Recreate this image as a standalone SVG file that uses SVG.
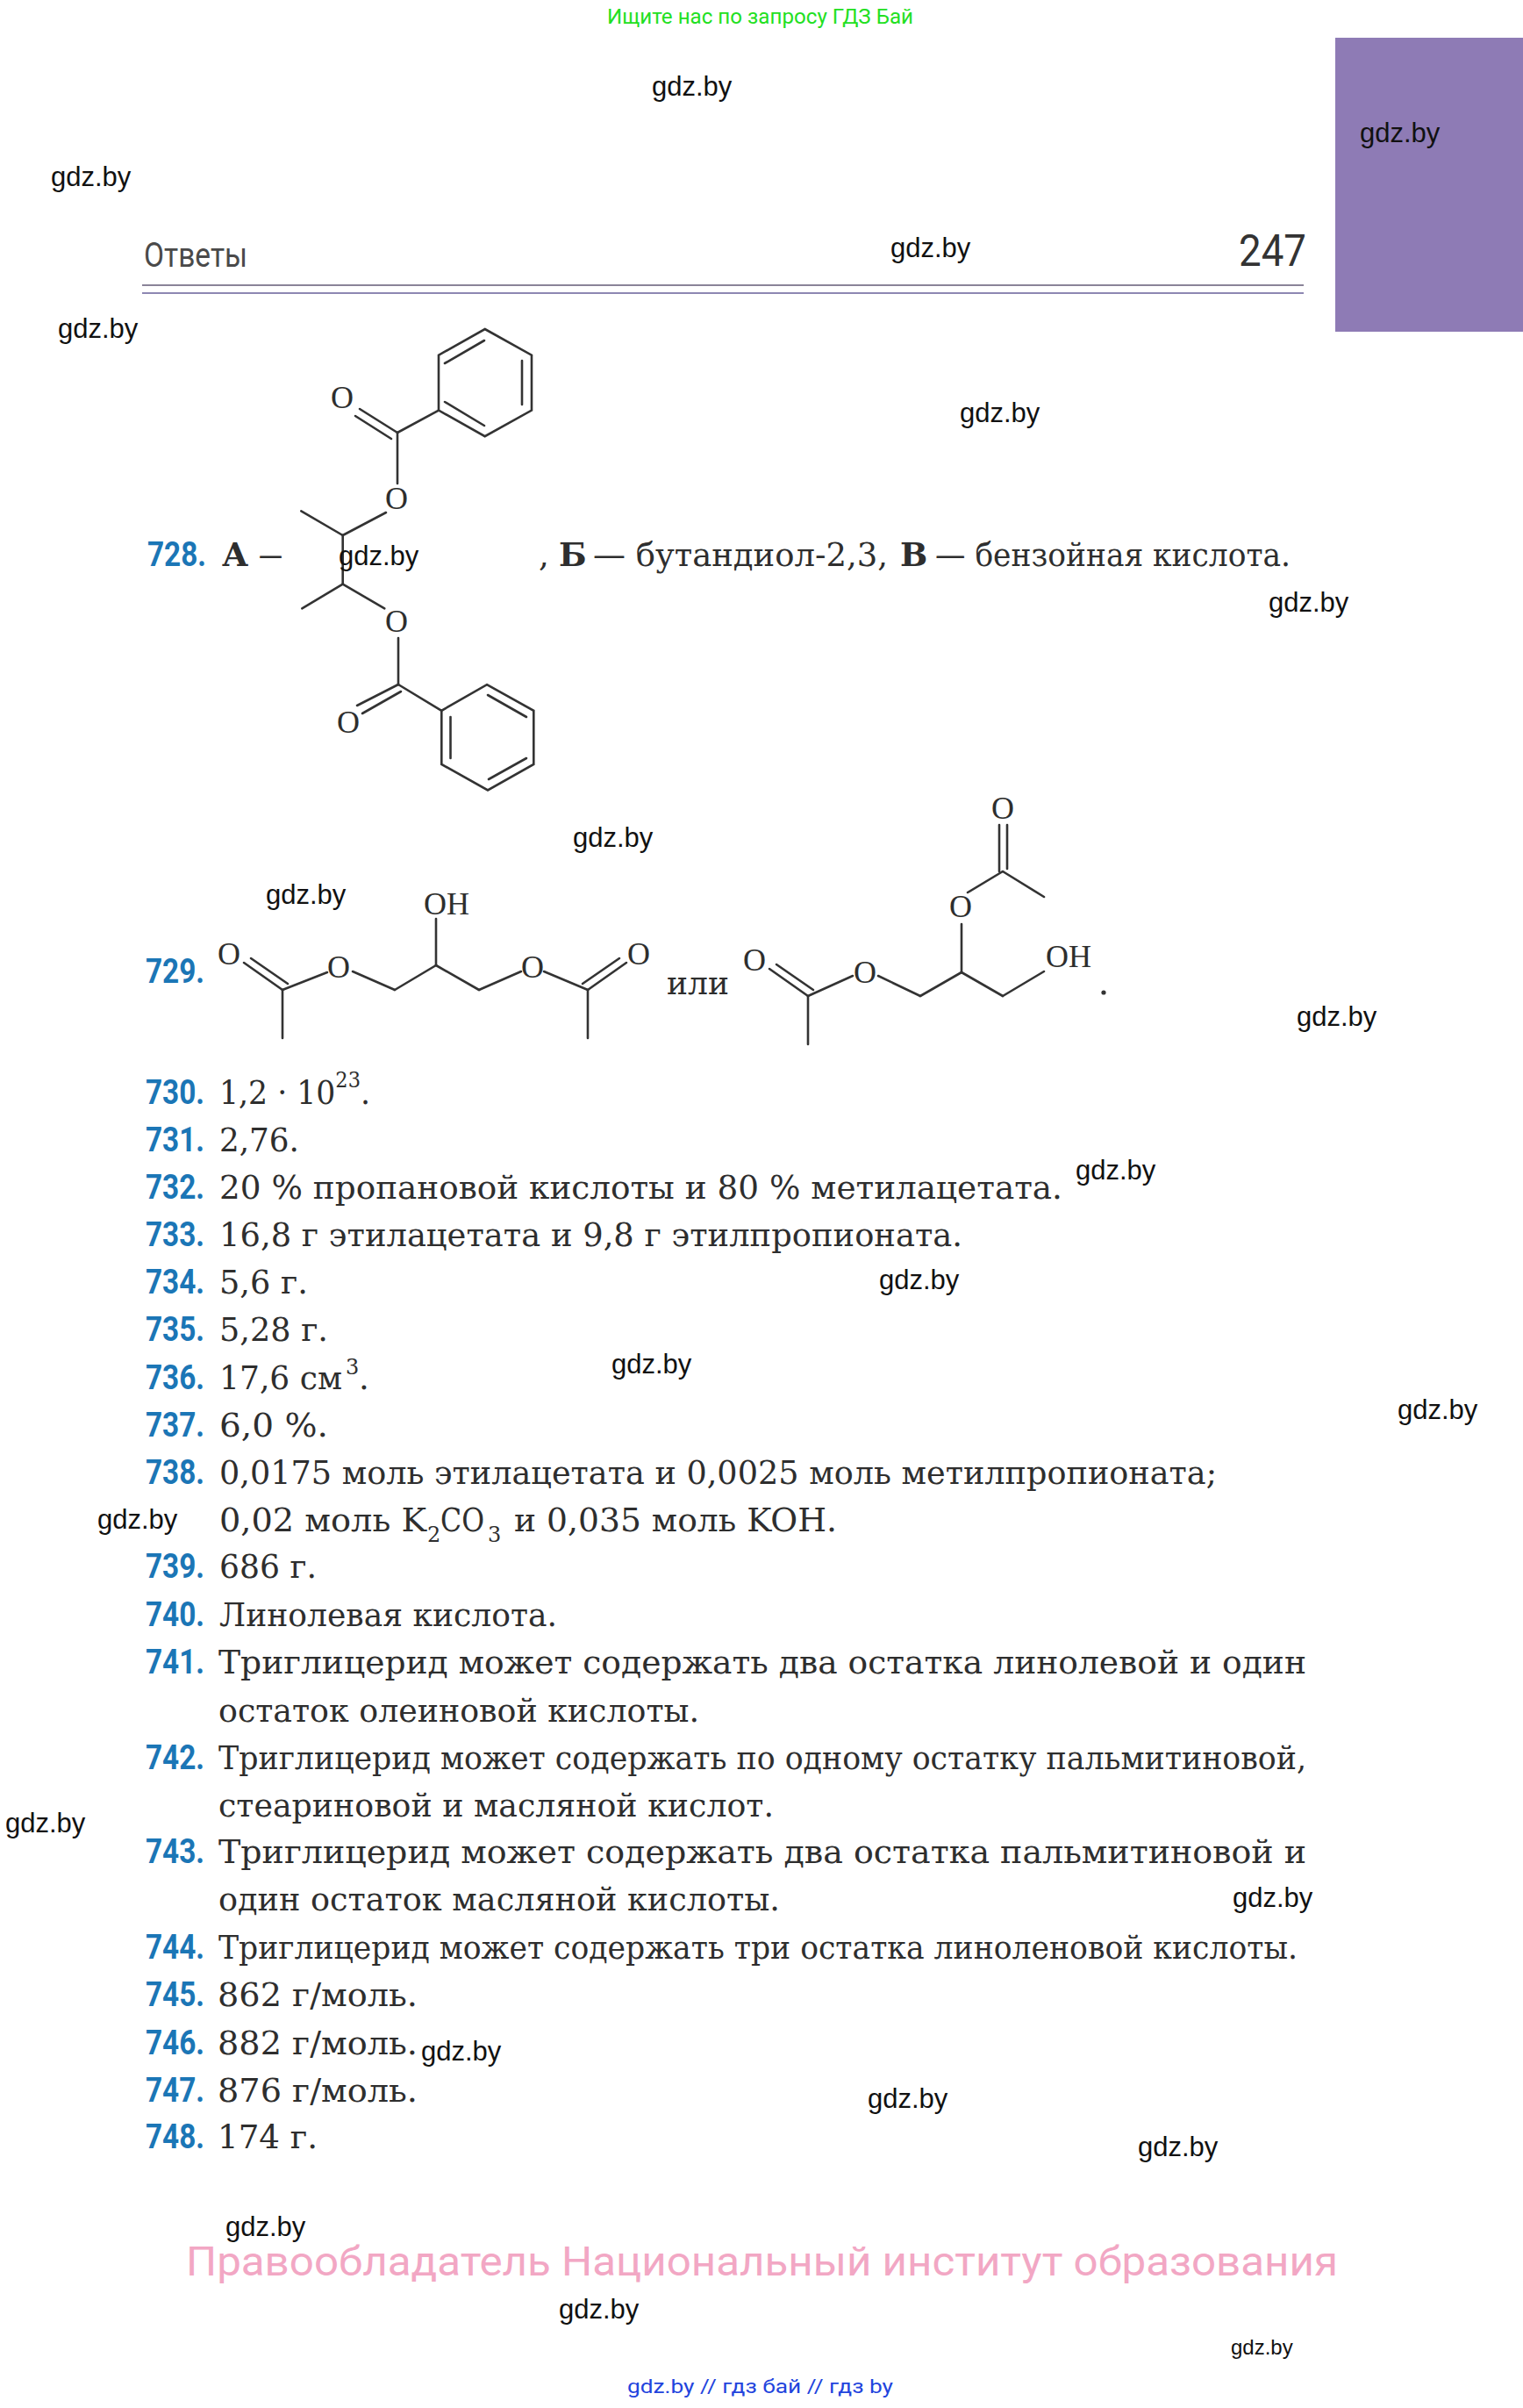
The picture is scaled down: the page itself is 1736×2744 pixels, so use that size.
<svg xmlns="http://www.w3.org/2000/svg" width="1736" height="2744" viewBox="0 0 1736 2744">
<style>
.wm{font-family:"Liberation Sans",Arial,sans-serif;font-size:31px;fill:#111}
.wms{font-family:"Liberation Sans",Arial,sans-serif;font-size:24px;fill:#111}
.num{font-family:Roboto,"Liberation Sans",sans-serif;font-weight:bold;font-size:39px;fill:#1b76b6}
.tx{font-family:"DejaVu Serif","Liberation Serif",serif;font-size:37px;fill:#2e2e2e}
.sm{font-family:"DejaVu Serif","Liberation Serif",serif;font-size:24px;fill:#2e2e2e}
.b{font-weight:bold}
.at{font-family:"Liberation Serif","DejaVu Serif",serif;font-size:36px;fill:#2e2e2e;text-anchor:middle}
.ath{font-family:"Liberation Serif","DejaVu Serif",serif;font-size:36px;fill:#2e2e2e}
.bd{stroke:#333;stroke-width:2.6;fill:none;stroke-linecap:round}
</style>
<rect width="1736" height="2744" fill="#fff"/>
<g id="header">
<text x="692" y="27" font-family="Roboto,'Liberation Sans',sans-serif" font-size="23" fill="#22e022" textLength="349" lengthAdjust="spacingAndGlyphs">Ищите нас по запросу ГДЗ Бай</text>
<rect x="1522" y="43" width="214" height="335" fill="#8e7bb5"/>
<text x="164" y="304" font-family="Roboto,'Liberation Sans',sans-serif" font-size="39" fill="#4a4a4a" textLength="118" lengthAdjust="spacingAndGlyphs">Ответы</text>
<text x="1412" y="303" font-family="Roboto,'Liberation Sans',sans-serif" font-size="50" fill="#333" textLength="77" lengthAdjust="spacingAndGlyphs">247</text>
<line x1="162" y1="325" x2="1486" y2="325" stroke="#8a8498" stroke-width="2"/>
<line x1="162" y1="334" x2="1486" y2="334" stroke="#8d87b2" stroke-width="2"/>
</g>
<g id="s728">
<polygon class="bd" points="552.7,375 606,404.7 606,467.6 552.7,497.2 500,467.6 500,404.7"/>
<line class="bd" x1="507" y1="414" x2="552" y2="388"/>
<line class="bd" x1="595" y1="411" x2="595" y2="461"/>
<line class="bd" x1="507" y1="458" x2="552" y2="485"/>
<line class="bd" x1="453" y1="493" x2="500" y2="467.6"/>
<line class="bd" x1="453" y1="493" x2="410" y2="466"/>
<line class="bd" x1="446" y1="500" x2="405" y2="474"/>
<line class="bd" x1="453" y1="493" x2="453" y2="551"/>
<line class="bd" x1="440" y1="584" x2="390.7" y2="610"/>
<line class="bd" x1="390.7" y1="610" x2="343.3" y2="582.3"/>
<line class="bd" x1="390.7" y1="610" x2="390.7" y2="665.6"/>
<line class="bd" x1="390.7" y1="665.6" x2="344.3" y2="693.3"/>
<line class="bd" x1="390.7" y1="665.6" x2="438.3" y2="693.3"/>
<line class="bd" x1="454" y1="727" x2="454" y2="780"/>
<line class="bd" x1="454" y1="780" x2="407" y2="804"/>
<line class="bd" x1="457" y1="788" x2="413" y2="813"/>
<line class="bd" x1="454" y1="780" x2="503.3" y2="809.8"/>
<polygon class="bd" points="555,780.2 608.3,809.8 608.3,870.9 556,900.5 503.3,870.9 503.3,809.8"/>
<line class="bd" x1="556" y1="792" x2="600" y2="817"/>
<line class="bd" x1="600" y1="864" x2="557" y2="888"/>
<line class="bd" x1="513.5" y1="817" x2="513.5" y2="864"/>
<text class="at" x="390" y="465">O</text>
<text class="at" x="452" y="580">O</text>
<text class="at" x="452" y="720">O</text>
<text class="at" x="397" y="835">O</text>
</g>
<g id="s729">
<line class="bd" x1="322" y1="1128" x2="278" y2="1097"/>
<line class="bd" x1="328" y1="1121" x2="286" y2="1092"/>
<line class="bd" x1="322" y1="1128" x2="322" y2="1183"/>
<line class="bd" x1="322" y1="1128" x2="373" y2="1108"/>
<line class="bd" x1="402" y1="1107" x2="450" y2="1128"/>
<line class="bd" x1="450" y1="1128" x2="497" y2="1100"/>
<line class="bd" x1="497" y1="1100" x2="497" y2="1047"/>
<line class="bd" x1="497" y1="1100" x2="546" y2="1128"/>
<line class="bd" x1="546" y1="1128" x2="594" y2="1107"/>
<line class="bd" x1="620" y1="1107" x2="670" y2="1128"/>
<line class="bd" x1="670" y1="1128" x2="670" y2="1183"/>
<line class="bd" x1="670" y1="1128" x2="714" y2="1097"/>
<line class="bd" x1="664" y1="1121" x2="706" y2="1092"/>
<text class="at" x="261" y="1099">O</text>
<text class="at" x="386" y="1114">O</text>
<text class="ath" x="483" y="1042">OH</text>
<text class="at" x="607" y="1114">O</text>
<text class="at" x="728" y="1099">O</text>
<text class="tx" x="760" y="1133" textLength="71" lengthAdjust="spacingAndGlyphs">или</text>
<line class="bd" x1="921" y1="1135" x2="877" y2="1104"/>
<line class="bd" x1="927" y1="1128" x2="885" y2="1099"/>
<line class="bd" x1="921" y1="1135" x2="921" y2="1190"/>
<line class="bd" x1="921" y1="1135" x2="972" y2="1112"/>
<line class="bd" x1="1001" y1="1112" x2="1049" y2="1135"/>
<line class="bd" x1="1049" y1="1135" x2="1096" y2="1108"/>
<line class="bd" x1="1096" y1="1108" x2="1096" y2="1053"/>
<line class="bd" x1="1103" y1="1017" x2="1143" y2="993"/>
<line class="bd" x1="1139" y1="993" x2="1139" y2="940"/>
<line class="bd" x1="1148" y1="990" x2="1148" y2="940"/>
<line class="bd" x1="1143" y1="993" x2="1190" y2="1022"/>
<line class="bd" x1="1096" y1="1108" x2="1143" y2="1135"/>
<line class="bd" x1="1143" y1="1135" x2="1190" y2="1107"/>
<text class="at" x="860" y="1106">O</text>
<text class="at" x="986" y="1120">O</text>
<text class="at" x="1095" y="1045">O</text>
<text class="at" x="1143" y="933">O</text>
<text class="ath" x="1192" y="1102">OH</text>
<circle cx="1258" cy="1131" r="2.6" fill="#333"/>
</g>
<g id="answers">
<text class="num" x="168" y="645" textLength="67" lengthAdjust="spacingAndGlyphs">728.</text>
<text class="tx b" x="253" y="645">А</text>
<text class="tx" x="295" y="645" textLength="27" lengthAdjust="spacingAndGlyphs">—</text>
<text class="tx" x="614" y="645">,</text>
<text class="tx b" x="637" y="645">Б</text>
<text class="tx" x="676" y="645" textLength="336" lengthAdjust="spacingAndGlyphs">— бутандиол-2,3,</text>
<text class="tx b" x="1026" y="645">В</text>
<text class="tx" x="1066" y="645" textLength="405" lengthAdjust="spacingAndGlyphs">— бензойная кислота.</text>
<text class="num" x="166" y="1120" textLength="67" lengthAdjust="spacingAndGlyphs">729.</text>

<text class="num" x="166" y="1258" textLength="67" lengthAdjust="spacingAndGlyphs">730.</text>
<text class="tx" x="250" y="1258" textLength="172" lengthAdjust="spacingAndGlyphs">1,2 · 10<tspan font-size="24" dy="-19">23</tspan><tspan dy="19">.</tspan></text>
<text class="num" x="166" y="1312" textLength="67" lengthAdjust="spacingAndGlyphs">731.</text>
<text class="tx" x="250" y="1312" textLength="91" lengthAdjust="spacingAndGlyphs">2,76.</text>
<text class="num" x="166" y="1366" textLength="67" lengthAdjust="spacingAndGlyphs">732.</text>
<text class="tx" x="250" y="1366" textLength="961" lengthAdjust="spacingAndGlyphs">20 % пропановой кислоты и 80 % метилацетата.</text>
<text class="num" x="166" y="1420" textLength="67" lengthAdjust="spacingAndGlyphs">733.</text>
<text class="tx" x="250" y="1420" textLength="847" lengthAdjust="spacingAndGlyphs">16,8 г этилацетата и 9,8 г этилпропионата.</text>
<text class="num" x="166" y="1474" textLength="67" lengthAdjust="spacingAndGlyphs">734.</text>
<text class="tx" x="250" y="1474" textLength="101" lengthAdjust="spacingAndGlyphs">5,6 г.</text>
<text class="num" x="166" y="1528" textLength="67" lengthAdjust="spacingAndGlyphs">735.</text>
<text class="tx" x="250" y="1528" textLength="124" lengthAdjust="spacingAndGlyphs">5,28 г.</text>
<text class="num" x="166" y="1583" textLength="67" lengthAdjust="spacingAndGlyphs">736.</text>
<text class="tx" x="250" y="1583" textLength="140" lengthAdjust="spacingAndGlyphs">17,6 см</text>
<text class="sm" x="394" y="1566">3</text>
<text class="tx" x="409" y="1583">.</text>
<text class="num" x="166" y="1637" textLength="67" lengthAdjust="spacingAndGlyphs">737.</text>
<text class="tx" x="250" y="1637" textLength="124" lengthAdjust="spacingAndGlyphs">6,0 %.</text>
<text class="num" x="166" y="1691" textLength="67" lengthAdjust="spacingAndGlyphs">738.</text>
<text class="tx" x="250" y="1691" textLength="1137" lengthAdjust="spacingAndGlyphs">0,0175 моль этилацетата и 0,0025 моль метилпропионата;</text>
<text class="tx" x="250" y="1745" textLength="236" lengthAdjust="spacingAndGlyphs">0,02 моль K</text>
<text class="sm" x="487" y="1757">2</text>
<text class="tx" x="502" y="1745" textLength="50" lengthAdjust="spacingAndGlyphs">CO</text>
<text class="sm" x="556" y="1757">3</text>
<text class="tx" x="586" y="1745" textLength="368" lengthAdjust="spacingAndGlyphs">и 0,035 моль KOH.</text>
<text class="num" x="166" y="1798" textLength="67" lengthAdjust="spacingAndGlyphs">739.</text>
<text class="tx" x="250" y="1798" textLength="111" lengthAdjust="spacingAndGlyphs">686 г.</text>
<text class="num" x="166" y="1853" textLength="67" lengthAdjust="spacingAndGlyphs">740.</text>
<text class="tx" x="250" y="1853" textLength="385" lengthAdjust="spacingAndGlyphs">Линолевая кислота.</text>
<text class="num" x="166" y="1907" textLength="67" lengthAdjust="spacingAndGlyphs">741.</text>
<text class="tx" x="249" y="1907" textLength="1240" lengthAdjust="spacingAndGlyphs">Триглицерид может содержать два остатка линолевой и один</text>
<text class="tx" x="249" y="1962" textLength="548" lengthAdjust="spacingAndGlyphs">остаток олеиновой кислоты.</text>
<text class="num" x="166" y="2016" textLength="67" lengthAdjust="spacingAndGlyphs">742.</text>
<text class="tx" x="249" y="2016" textLength="1240" lengthAdjust="spacingAndGlyphs">Триглицерид может содержать по одному остатку пальмитиновой,</text>
<text class="tx" x="249" y="2070" textLength="633" lengthAdjust="spacingAndGlyphs">стеариновой и масляной кислот.</text>
<text class="num" x="166" y="2123" textLength="67" lengthAdjust="spacingAndGlyphs">743.</text>
<text class="tx" x="249" y="2123" textLength="1240" lengthAdjust="spacingAndGlyphs">Триглицерид может содержать два остатка пальмитиновой и</text>
<text class="tx" x="249" y="2177" textLength="640" lengthAdjust="spacingAndGlyphs">один остаток масляной кислоты.</text>
<text class="num" x="166" y="2232" textLength="67" lengthAdjust="spacingAndGlyphs">744.</text>
<text class="tx" x="249" y="2232" textLength="1230" lengthAdjust="spacingAndGlyphs">Триглицерид может содержать три остатка линоленовой кислоты.</text>
<text class="num" x="166" y="2286" textLength="67" lengthAdjust="spacingAndGlyphs">745.</text>
<text class="tx" x="248" y="2286" textLength="228" lengthAdjust="spacingAndGlyphs">862 г/моль.</text>
<text class="num" x="166" y="2341" textLength="67" lengthAdjust="spacingAndGlyphs">746.</text>
<text class="tx" x="248" y="2341" textLength="228" lengthAdjust="spacingAndGlyphs">882 г/моль.</text>
<text class="num" x="166" y="2395" textLength="67" lengthAdjust="spacingAndGlyphs">747.</text>
<text class="tx" x="248" y="2395" textLength="228" lengthAdjust="spacingAndGlyphs">876 г/моль.</text>
<text class="num" x="166" y="2448" textLength="67" lengthAdjust="spacingAndGlyphs">748.</text>
<text class="tx" x="248" y="2448" textLength="114" lengthAdjust="spacingAndGlyphs">174 г.</text>
</g>
<g id="footer">
<text x="212" y="2593" font-family="Roboto,'Liberation Sans',sans-serif" font-size="46" fill="#f2a7c4" textLength="1313" lengthAdjust="spacingAndGlyphs">Правообладатель Национальный институт образования</text>
<text x="715" y="2727" font-family="Roboto,'Liberation Sans',sans-serif" font-size="22" fill="#2244dd" textLength="303" lengthAdjust="spacingAndGlyphs">gdz.by  //  гдз бай  //  гдз by</text>
</g>
<g id="watermarks">
<text class="wm" x="743" y="109">gdz.by</text>
<text class="wm" x="58" y="212">gdz.by</text>
<text class="wm" x="1550" y="162">gdz.by</text>
<text class="wm" x="1015" y="293">gdz.by</text>
<text class="wm" x="66" y="385">gdz.by</text>
<text class="wm" x="1094" y="481">gdz.by</text>
<text class="wm" x="386" y="644">gdz.by</text>
<text class="wm" x="1446" y="697">gdz.by</text>
<text class="wm" x="653" y="965">gdz.by</text>
<text class="wm" x="303" y="1030">gdz.by</text>
<text class="wm" x="1478" y="1169">gdz.by</text>
<text class="wm" x="1226" y="1344">gdz.by</text>
<text class="wm" x="1002" y="1469">gdz.by</text>
<text class="wm" x="697" y="1565">gdz.by</text>
<text class="wm" x="1593" y="1617">gdz.by</text>
<text class="wm" x="111" y="1742">gdz.by</text>
<text class="wm" x="6" y="2088">gdz.by</text>
<text class="wm" x="1405" y="2173">gdz.by</text>
<text class="wm" x="480" y="2348">gdz.by</text>
<text class="wm" x="989" y="2402">gdz.by</text>
<text class="wm" x="1297" y="2457">gdz.by</text>
<text class="wm" x="257" y="2548">gdz.by</text>
<text class="wm" x="637" y="2642">gdz.by</text>
<text class="wms" x="1403" y="2683">gdz.by</text>
</g>
</svg>
